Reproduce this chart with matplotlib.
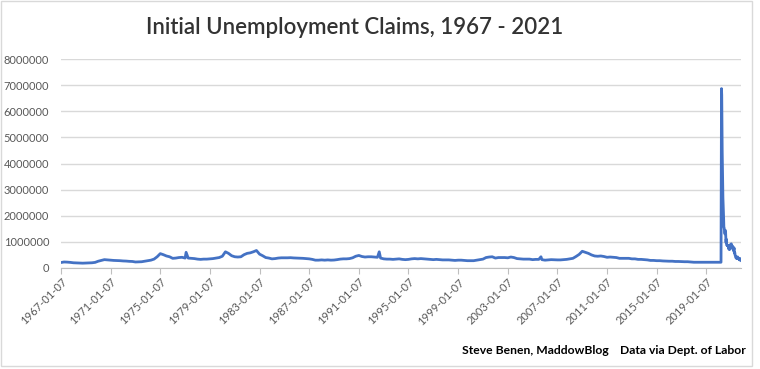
import numpy as np
import pandas as pd
import matplotlib
matplotlib.use("Agg")
import matplotlib.pyplot as plt
import matplotlib.dates as mdates
from matplotlib.ticker import FuncFormatter
from matplotlib.patches import Rectangle

# initial claims, quarterly 1967 Q1 .. 2017 Q4 (thousands)
claims_q = [
    210, 230, 225, 215,   # 1967
    200, 195, 190, 185,   # 1968
    190, 195, 200, 215,   # 1969
    260, 290, 320, 310,   # 1970
    300, 290, 285, 280,   # 1971
    270, 265, 255, 250,   # 1972
    230, 235, 240, 260,   # 1973
    280, 300, 340, 430,   # 1974
    550, 510, 460, 430,   # 1975
    370, 380, 400, 410,   # 1976
    380, 380, 370, 360,   # 1977
    340, 330, 340, 340,   # 1978
    350, 360, 380, 400,   # 1979
    450, 620, 560, 470,   # 1980
    430, 420, 430, 510,   # 1981
    560, 580, 620, 670,   # 1982
    530, 470, 400, 380,   # 1983
    350, 360, 380, 390,   # 1984
    390, 390, 395, 385,   # 1985
    380, 375, 370, 360,   # 1986
    350, 330, 300, 300,   # 1987
    310, 300, 310, 300,   # 1988
    305, 320, 340, 350,   # 1989
    350, 360, 390, 450,   # 1990
    480, 440, 420, 430,   # 1991
    430, 420, 410, 380,   # 1992
    350, 340, 340, 330,   # 1993
    340, 350, 330, 320,   # 1994
    330, 350, 360, 350,   # 1995
    360, 350, 340, 330,   # 1996
    320, 330, 320, 310,   # 1997
    310, 310, 300, 290,   # 1998
    300, 300, 290, 280,   # 1999
    280, 280, 300, 320,   # 2000
    340, 400, 420, 430,   # 2001
    380, 400, 400, 400,   # 2002
    390, 420, 400, 360,   # 2003
    350, 340, 340, 340,   # 2004
    320, 330, 330, 320,   # 2005
    300, 310, 320, 315,   # 2006
    310, 310, 320, 330,   # 2007
    350, 370, 440, 520,   # 2008
    640, 600, 560, 500,   # 2009
    460, 450, 460, 440,   # 2010
    410, 420, 410, 400,   # 2011
    370, 370, 370, 370,   # 2012
    350, 350, 330, 330,   # 2013
    320, 310, 290, 290,   # 2014
    280, 280, 270, 265,   # 2015
    260, 260, 250, 250,   # 2016
    245, 240, 240, 230,   # 2017
]

# single-week spikes visible in the line
spike_dates = ["1977-02-05", "1992-08-29", "2005-09-10"]
spike_vals = [600, 620, 430]

# points either side of the data gap (drawn as a flat segment)
gap_dates = ["2018-01-06", "2020-03-14"]
gap_vals = [220, 220]

# weekly claims from 2020-03-21 to 2021-10-23 (thousands)
covid_vals = [
    3307, 6867, 6615, 5237, 4442, 3867, 3176, 2687, 2446, 2123, 1897,
    1566, 1540, 1482, 1413, 1310, 1307, 1422, 1434, 1186, 971, 1104,
    1011, 881, 893, 866, 873, 849, 845, 842, 787, 751, 757, 711, 748,
    787, 716, 862, 892, 806, 790,
    784, 926, 886, 836, 812, 848, 841, 745, 766, 725, 781, 658, 728,
    769, 586, 566, 590, 507, 478, 444, 405, 385, 375, 418, 415, 364,
    386, 419, 424, 399, 385, 375, 349, 353, 340, 312, 335, 362, 364,
    329, 293, 290, 283,
]

tick_years = list(range(1967, 2020, 4))

q_dates = pd.date_range("1967-01-07", periods=len(claims_q), freq=pd.DateOffset(months=3))
covid_dates = pd.date_range("2020-03-21", periods=len(covid_vals), freq="7D")

s = pd.concat([
    pd.Series(claims_q, index=q_dates),
    pd.Series(spike_vals, index=pd.to_datetime(spike_dates)),
    pd.Series(gap_vals, index=pd.to_datetime(gap_dates)),
    pd.Series(covid_vals, index=covid_dates),
]).sort_index() * 1000

plt.rcParams['font.family'] = ['Lato', 'DejaVu Sans']

fig = plt.figure(figsize=(7.6, 3.69), dpi=100)
ax = fig.add_axes([61 / 760, 1 - 268 / 369, 680 / 760, 209 / 369])

ax.plot(s.index, s.values, color='#4472C4', lw=2, solid_joinstyle='round')

ax.set_ylim(0, 8000000)
ax.set_yticks(np.arange(0, 8000001, 1000000))
ax.yaxis.set_major_formatter(FuncFormatter(lambda v, p: f"{int(v)}"))
ax.grid(axis='y', color='#d9d9d9', lw=1)
ax.set_axisbelow(True)

ax.set_xlim(pd.Timestamp("1967-01-07"), s.index[-1])
ax.set_xticks([pd.Timestamp(f"{y}-01-07") for y in tick_years])
ax.xaxis.set_major_formatter(mdates.DateFormatter('%Y-%m-%d'))

for side in ['top', 'right', 'left']:
    ax.spines[side].set_visible(False)
ax.spines['bottom'].set_color('#bfbfbf')

ax.tick_params(axis='y', length=0, pad=8.5, labelsize=8, labelcolor='#595959')
ax.tick_params(axis='x', length=4, color='#bfbfbf', pad=2, labelsize=8, labelcolor='#595959')
plt.setp(ax.get_xticklabels(), rotation=45, ha='right', rotation_mode='anchor')

fig.text(355 / 760, 1 - 28 / 369, "Initial Unemployment Claims, 1967 - 2021",
         ha='center', va='center', fontsize=16, fontweight='semibold', color='#333333')
fig.text(609 / 760, 1 - 351 / 369, "Steve Benen, MaddowBlog",
         ha='right', va='center', fontsize=8.7, fontweight='bold', color='black')
fig.text(620 / 760, 1 - 351 / 369, "Data via Dept. of Labor",
         ha='left', va='center', fontsize=8.7, fontweight='bold', color='black')

fig.patches.append(Rectangle((1 / 760, 1 - 366 / 369), 751 / 760, 365 / 369,
                             transform=fig.transFigure, fill=False,
                             edgecolor='#d9d9d9', lw=1))

fig.savefig("out.png", dpi=100, facecolor='white')
